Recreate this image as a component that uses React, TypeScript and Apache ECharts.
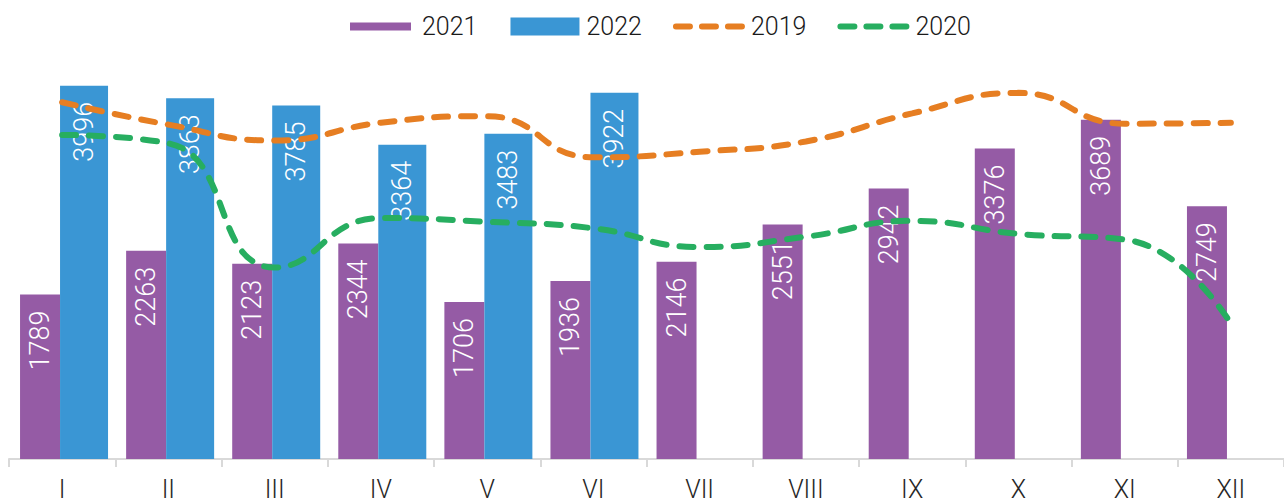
import React, { useEffect, useRef } from "react";
import * as echarts from "echarts";

const months = ["I", "II", "III", "IV", "V", "VI", "VII", "VIII", "IX", "X", "XI", "XII"];
const values2021 = [1789, 2263, 2123, 2344, 1706, 1936, 2146, 2551, 2942, 3376, 3689, 2749];
const values2022: (number | null)[] = [3996, 3863, 3785, 3364, 3483, 3922, null, null, null, null, null, null];
const values2019 = [3820, 3580, 3410, 3600, 3670, 3230, 3290, 3400, 3700, 3920, 3590, 3600];
const values2020 = [3470, 3380, 2050, 2580, 2540, 2470, 2270, 2380, 2550, 2410, 2350, 1450];

const PURPLE = "#955BA5";
const BLUE = "#3A96D4";
const ORANGE = "#E67E22";
const GREEN = "#27AE60";
const FONT = "Roboto, 'DejaVu Sans', sans-serif";

const DASH_ICON =
  "path://M0,0M74,18" +
  "M4,6h14a3,3 0 0 1 0,6h-14a3,3 0 0 1 0,-6z" +
  "M30,6h14a3,3 0 0 1 0,6h-14a3,3 0 0 1 0,-6z" +
  "M56,6h14a3,3 0 0 1 0,6h-14a3,3 0 0 1 0,-6z";

export default function App() {
  const ref = useRef<HTMLDivElement>(null);
  useEffect(() => {
    if (!ref.current) return;
    const chart = echarts.init(ref.current, undefined, { renderer: "svg" });
    const barLabel = {
      show: true,
      position: "insideTop",
      rotate: 90,
      align: "right",
      verticalAlign: "middle",
      distance: 16,
      color: "#FFFFFF",
      fontFamily: FONT,
      fontWeight: 300,
      fontSize: 27,
    };
    const lineCommon = {
      type: "line",
      smooth: 0.5,
      symbol: "none",
      xAxisIndex: 0,
      yAxisIndex: 0,
      z: 5,
    };
    chart.setOption({
      animation: false,
      textStyle: { fontFamily: FONT },
      legend: {
        left: 338,
        top: 9,
        itemWidth: 74,
        itemHeight: 18,
        itemGap: 30,
        textStyle: { fontFamily: FONT, fontSize: 25, fontWeight: 300, color: "#1A1A1A" },
        data: [
          { name: "2021", icon: "path://M0,0M74,18M7,5L68,5L68,13L7,13Z" },
          { name: "2022", icon: "path://M0,0M74,18M3,0L72,0L72,18L3,18Z" },
          { name: "2019", icon: DASH_ICON, itemStyle: { color: ORANGE } },
          { name: "2020", icon: DASH_ICON, itemStyle: { color: GREEN } },
        ],
      },
      grid: [
        { left: 9, width: 1282, top: 38.7, bottom: 44 },
        { left: 11, width: 1282, top: 38.7, bottom: 44 },
      ],
      xAxis: [
        {
          type: "category",
          gridIndex: 0,
          data: months,
          axisLine: { lineStyle: { color: "#D9D9D9", width: 2 } },
          axisTick: { show: true, length: 8, lineStyle: { color: "#D9D9D9", width: 2 } },
          axisLabel: {
            color: "#262626",
            fontFamily: FONT,
            fontWeight: 300,
            fontSize: 25,
            margin: 18,
            interval: 0,
          },
          z: 1,
        },
        { type: "category", gridIndex: 1, data: months, show: false },
      ],
      yAxis: [
        { type: "value", gridIndex: 0, min: 0, max: 4500, show: false, splitLine: { show: false } },
        { type: "value", gridIndex: 1, min: 0, max: 4500, show: false, splitLine: { show: false } },
        { type: "value", gridIndex: 1, min: 0, max: 4570, show: false, splitLine: { show: false } },
      ],
      series: [
        {
          name: "2021",
          type: "bar",
          xAxisIndex: 1,
          yAxisIndex: 2,
          data: values2021,
          barWidth: 40,
          barGap: "0%",
          itemStyle: { color: PURPLE },
          label: barLabel,
          z: 2,
        },
        {
          name: "2022",
          type: "bar",
          xAxisIndex: 1,
          yAxisIndex: 1,
          data: values2022,
          barWidth: 48,
          barGap: "0%",
          itemStyle: { color: BLUE },
          label: barLabel,
          z: 2,
        },
        {
          ...lineCommon,
          name: "2019",
          data: values2019,
          itemStyle: { color: ORANGE },
          lineStyle: { color: ORANGE, width: 6, type: [14, 13], cap: "round" },
        },
        {
          ...lineCommon,
          name: "2020",
          data: values2020,
          itemStyle: { color: GREEN },
          lineStyle: { color: GREEN, width: 6, type: [14, 13], cap: "round" },
        },
      ],
    });
    return () => chart.dispose();
  }, []);
  return (
    <div
      ref={ref}
      style={{ position: "fixed", left: 0, top: 0, width: 1284, height: 503, background: "#FFFFFF" }}
    />
  );
}
